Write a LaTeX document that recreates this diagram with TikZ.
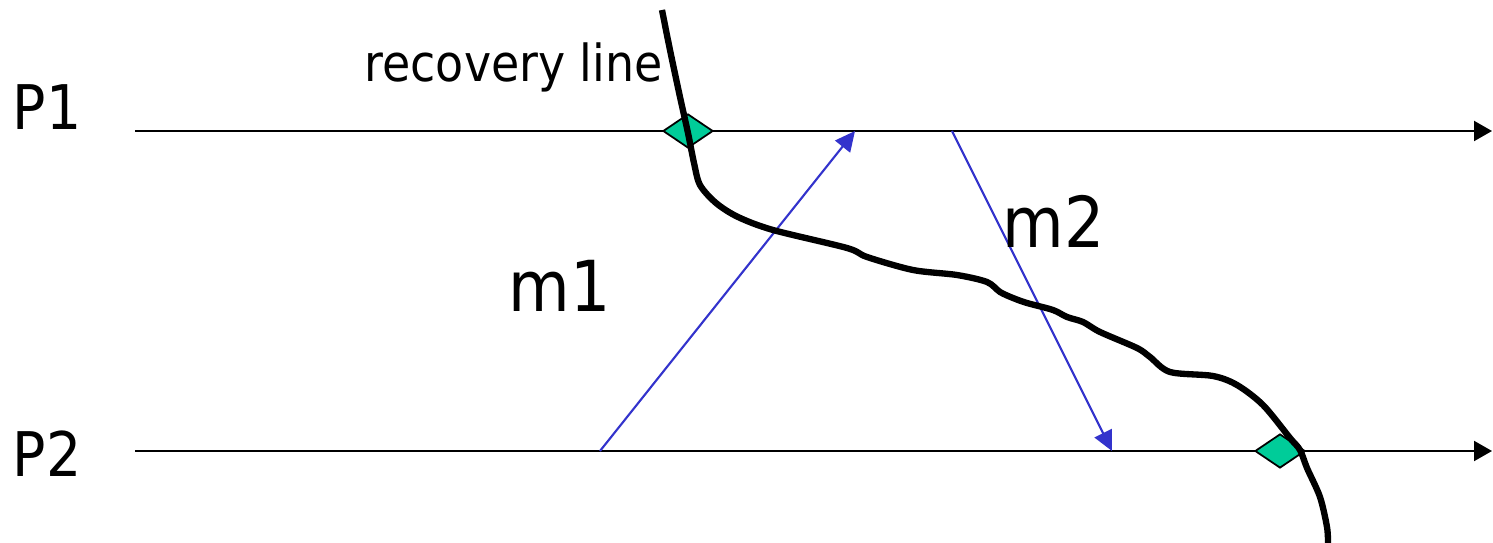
\documentclass[tikz,border=0pt]{standalone}
\usepackage{fontspec}
\setmainfont{DejaVu Sans Condensed}
\definecolor{msgblue}{RGB}{51,51,204}
\definecolor{ckptgreen}{RGB}{0,204,153}
\usetikzlibrary{arrows.meta,shapes.geometric}

\begin{document}
\begin{tikzpicture}[x=0.01cm,y=-0.01cm,
  proc/.style={font=\fontsize{17.5}{20}\selectfont, inner sep=0pt, anchor=base west},
  msglabel/.style={font=\fontsize{20}{24}\selectfont, inner sep=0pt, anchor=base west},
  timeline/.style={line width=0.6pt, -{Triangle[length=0.18cm,width=0.2cm]}},
  msg/.style={line width=0.6pt, msgblue, -{Triangle[length=0.2cm,width=0.19cm]}},
  ckpt/.style={diamond, draw, line width=0.5pt, fill=ckptgreen, minimum width=0.5cm, minimum height=0.34cm, inner sep=0pt}]
  \useasboundingbox (0,0) rectangle (1493,543);

  % processes
  \node[proc] (p1) at (12,130) {P1};
  \node[proc] (p2) at (12,477) {P2};
  \coordinate (p1start) at (135,131);
  \coordinate (p1end) at (1492,131);
  \coordinate (p2start) at (135,451);
  \coordinate (p2end) at (1492,451);
  \draw[timeline] (p1start) -- (p1end);
  \draw[timeline] (p2start) -- (p2end);

  % checkpoints
  \node[ckpt] (ckpt1) at (688,131) {};
  \node[ckpt] (ckpt2) at (1280,451) {};

  % messages
  \coordinate (m1send) at (600,451);
  \coordinate (m1recv) at (855,131);
  \coordinate (m2send) at (952,131);
  \coordinate (m2recv) at (1112,451);
  \draw[msg] (m1send) -- (m1recv);
  \draw[msg] (m2send) -- (m2recv);
  \node[msglabel] (m1) at (508,312) {m1};
  \node[msglabel] (m2) at (1002,248) {m2};

  % recovery line
  \draw[line width=1.8pt, line join=round] plot[smooth, tension=0.5] coordinates {
    (662,10) (670,50) (680,97) (688,133) (694,163) (700,185) (716,203)
    (738,217) (773,230) (847,248) (867,257) (913,270) (957,275) (987,282)
    (1000,292) (1013,298) (1027,303) (1053,310) (1067,317) (1083,322)
    (1100,332) (1137,348) (1150,357) (1170,372) (1213,376) (1237,385)
    (1263,405) (1290,438) (1300,450) (1307,468) (1320,497) (1327,527) (1328,543)};
  \node[font=\fontsize{14.5}{17}\selectfont, inner sep=0pt, anchor=base west] (reclabel) at (364,82) {recovery line};
\end{tikzpicture}
\end{document}
